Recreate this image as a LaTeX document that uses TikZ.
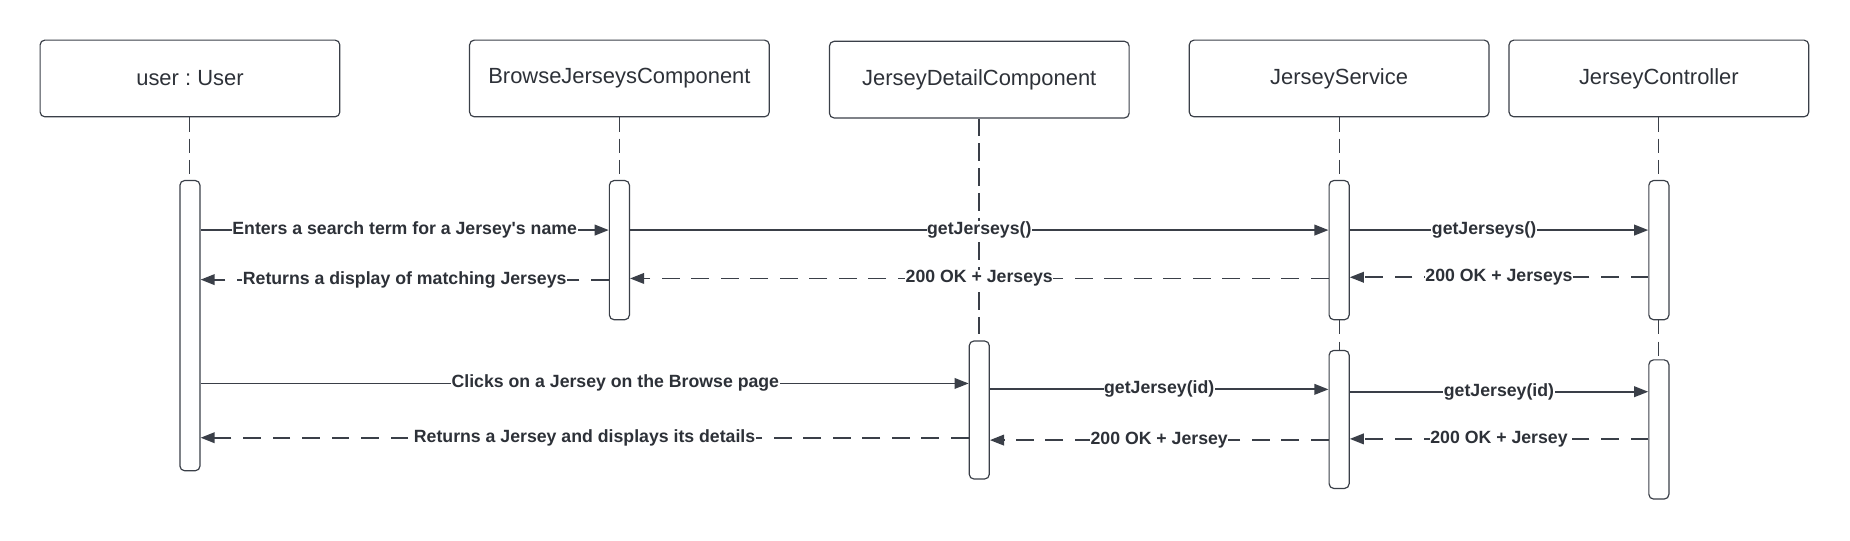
\documentclass[tikz,border=0pt]{standalone}
\usepackage{fontspec}
\setmainfont{Liberation Sans}
\usetikzlibrary{arrows.meta}
\definecolor{slate}{RGB}{58,63,72}
\definecolor{inktext}{RGB}{45,49,56}
\tikzstyle{lifebox}=[
      rectangle,
      draw = slate,
      line width = 1pt,
      rounded corners = 4pt,
      minimum width = 254pt,
      minimum height = 65pt,
      text = inktext,
      font = \fontsize{18.6}{22}\selectfont
      ]
\tikzstyle{actbar}=[
      rectangle,
      draw = slate,
      line width = 1pt,
      rounded corners = 4pt,
      fill = white,
      minimum width = 17pt,
      inner sep = 0pt
      ]
\tikzstyle{lifeline}=[draw = slate, line width = 0.8pt, dash pattern = on 12pt off 6pt]
\tikzstyle{boldline}=[draw = slate, line width = 1.6pt, dash pattern = on 15pt off 6pt]
\tikzstyle{call}=[draw = slate, line width = 1.6pt, -{Triangle[length=12pt,width=9pt]}]
\tikzstyle{reply}=[call, dash pattern = on 15pt off 10pt]
\tikzstyle{msglabel}=[
      fill = white,
      inner sep = 0.5pt,
      text = inktext,
      font = \fontsize{15}{18}\selectfont\bfseries
      ]
\begin{document}
\frenchspacing
\begin{tikzpicture}[x=1pt,y=-1pt]
\useasboundingbox (0,0) rectangle (1568,457.7);
% participants
\node [lifebox] (user) at (161,66.5) {user : User};
\node [lifebox] (browse) at (525,66.5) {BrowseJerseysComponent};
\node [lifebox] (detail) at (830,67.5) {JerseyDetailComponent};
\node [lifebox] (service) at (1135,66.5) {JerseyService};
\node [lifebox] (controller) at (1406,66.5) {JerseyController};
% activation bars
\node [actbar, minimum height = 246pt] (userbar) at (161,276) {};
\node [actbar, minimum height = 118pt] (browsebar) at (525,212) {};
\node [actbar, minimum height = 117pt] (detailbar) at (830,347.5) {};
\node [actbar, minimum height = 118pt] (servicebarA) at (1135,212) {};
\node [actbar, minimum height = 117pt] (servicebarB) at (1135,355.5) {};
\node [actbar, minimum height = 118pt] (controllerbarA) at (1406,212) {};
\node [actbar, minimum height = 118pt] (controllerbarB) at (1406,364) {};
% lifelines
\draw [lifeline] (user.south) -- (userbar.north);
\draw [lifeline] (browse.south) -- (browsebar.north);
\draw [boldline] (detail.south) -- (detailbar.north);
\draw [lifeline] (service.south) -- (servicebarA.north);
\draw [lifeline] (servicebarA.south) -- (servicebarB.north);
\draw [lifeline] (controller.south) -- (controllerbarA.north);
\draw [lifeline] (controllerbarA.south) -- (controllerbarB.north);
% message levels
\coordinate (m1) at (0,195);
\coordinate (m4) at (0,235);
\coordinate (m5) at (0,236);
\coordinate (m6) at (0,237);
\coordinate (m7) at (0,325);
\coordinate (m8) at (0,330);
\coordinate (m9) at (0,332);
\coordinate (m10) at (0,372);
\coordinate (m11) at (0,373);
\coordinate (m12) at (0,371);
% search
\draw [call] (userbar.east |- m1) -- node [msglabel] {Enters a search term for a Jersey\textquotesingle s name} (browsebar.west |- m1);
\draw [call] (browsebar.east |- m1) -- node [msglabel] {getJerseys()} (servicebarA.west |- m1);
\draw [call] (servicebarA.east |- m1) -- node [msglabel, pos = 0.45] {getJerseys()} (controllerbarA.west |- m1);
\draw [reply] (controllerbarA.west |- m4) -- node [msglabel] {200 OK + Jerseys} (servicebarA.east |- m4);
\draw [reply] (servicebarA.west |- m5) -- node [msglabel] {200 OK + Jerseys} (browsebar.east |- m5);
\draw [reply] (browsebar.west |- m6) -- node [msglabel] {Returns a display of matching Jerseys} (userbar.east |- m6);
% detail
\draw [call] (userbar.east |- m7) -- node [msglabel, pos = 0.54] {Clicks on a Jersey on the Browse page} (detailbar.west |- m7);
\draw [call] (detailbar.east |- m8) -- node [msglabel] {getJersey(id)} (servicebarB.west |- m8);
\draw [call] (servicebarB.east |- m9) -- node [msglabel] {getJersey(id)} (controllerbarB.west |- m9);
\draw [reply] (controllerbarB.west |- m10) -- node [msglabel] {200 OK + Jersey} (servicebarB.east |- m10);
\draw [reply] (servicebarB.west |- m11) -- node [msglabel] {200 OK + Jersey} (detailbar.east |- m11);
\draw [reply] (detailbar.west |- m12) -- node [msglabel] {Returns a Jersey and displays its details} (userbar.east |- m12);
\end{tikzpicture}
\end{document}
